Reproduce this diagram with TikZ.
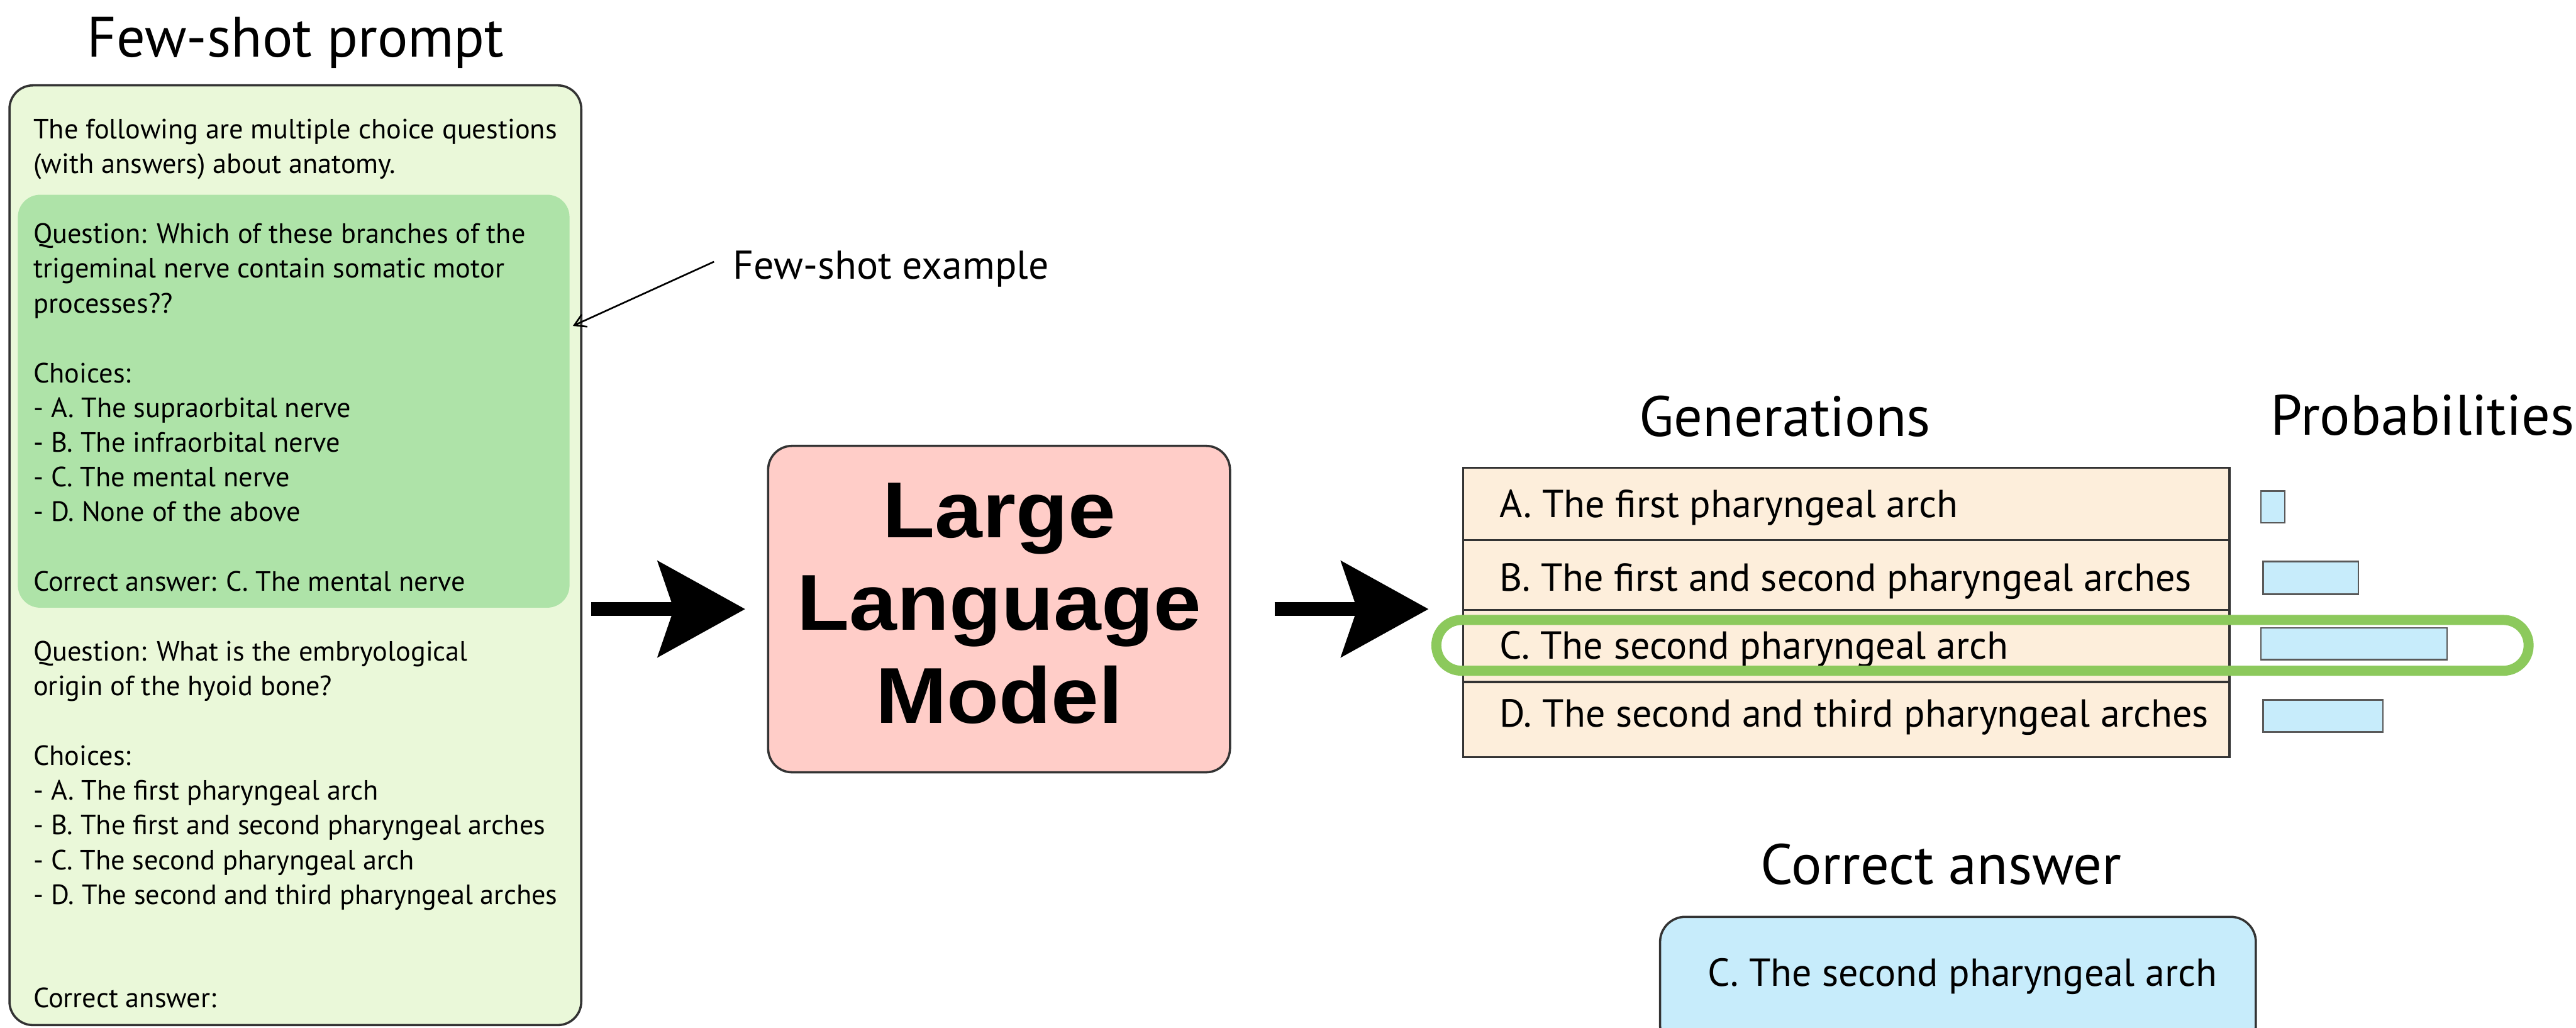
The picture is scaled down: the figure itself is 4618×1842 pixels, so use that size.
\documentclass[tikz,border=0pt]{standalone}
\usepackage{fontspec}
\setmainfont{PT Sans}
\newfontfamily\llmfont[FakeStretch=1.08]{Liberation Sans}
\usetikzlibrary{arrows.meta}
\definecolor{outergreen}{HTML}{EAF8D9}
\definecolor{innergreen}{HTML}{AEE3A8}
\definecolor{llmpink}{HTML}{FFCDC8}
\definecolor{peach}{HTML}{FDEEDB}
\definecolor{lightblue}{HTML}{C7ECFB}
\definecolor{hlgreen}{HTML}{8CC95C}
\definecolor{edge}{HTML}{333333}
\tikzset{
  every node/.style={inner sep=0pt, outer sep=0pt},
  body/.style={anchor=base west, font=\fontsize{50pt}{60pt}\selectfont, text=black},
  title/.style={anchor=base, font=\fontsize{102pt}{120pt}\selectfont, text=black},
  gentext/.style={anchor=base west, font=\fontsize{70pt}{80pt}\selectfont, text=black},
  fslabelstyle/.style={anchor=base west, font=\fontsize{72pt}{84pt}\selectfont, text=black},
  llmtext/.style={anchor=base, font=\llmfont\bfseries\fontsize{142pt}{166pt}\selectfont, text=black},
  promptbox/.style={draw=edge, line width=4pt, fill=outergreen, rounded corners=42pt, anchor=north west},
  examplebox/.style={fill=innergreen, rounded corners=40pt, anchor=north west},
  llmbox/.style={draw=edge, line width=4pt, fill=llmpink, rounded corners=43pt, anchor=north west},
  rowbox/.style={draw=edge, line width=4pt, fill=peach, anchor=north west, minimum width=1374pt},
  probbar/.style={draw=black!65, line width=3pt, fill=lightblue, anchor=north west},
  answerbox/.style={draw=edge, line width=4pt, fill=lightblue, rounded corners=45pt, anchor=north west},
  highlight/.style={draw=hlgreen, line width=18pt, rounded corners=45pt, anchor=north west},
  bigarrow/.style={line width=24pt, -{Stealth[length=156pt, width=170pt, inset=28pt]}},
  pointer/.style={line width=3pt, -{Straight Barb[length=20pt, width=24pt, line width=3pt]}},
}
\begin{document}
\begin{tikzpicture}[x=1pt, y=-1pt]
\useasboundingbox (0,0) rectangle (4618,1842);
\fill[white] (0,0) rectangle (4618,1842);

% ---- few-shot prompt ----
\node[title] (ptitle) at (530,102) {Few-shot prompt};
\node[promptbox, minimum width=1025pt, minimum height=1684pt] (prompt) at (17,153) {};
\node[examplebox, minimum width=989pt, minimum height=740pt] (example) at (32,349) {};

\node[body] (t1) at (60,249) {The following are multiple choice questions};
\node[body] (t2) at (60,311) {(with answers) about anatomy.};
\node[body] (t3) at (60,436) {Question: Which of these branches of the};
\node[body] (t4) at (60,498) {trigeminal nerve contain somatic motor};
\node[body] (t5) at (60,561) {processes??};
\node[body] (t6) at (60,686) {Choices:};
\node[body] (t7) at (60,748) {- A. The supraorbital nerve};
\node[body] (t8) at (60,810) {- B. The infraorbital nerve};
\node[body] (t9) at (60,872) {- C. The mental nerve};
\node[body] (t10) at (60,934) {- D. None of the above};
\node[body] (t11) at (60,1059) {Correct answer: C. The mental nerve};
\node[body] (t12) at (60,1184) {Question: What is the embryological};
\node[body] (t13) at (60,1246) {origin of the hyoid bone?};
\node[body] (t14) at (60,1371) {Choices:};
\node[body] (t15) at (60,1433) {- A. The first pharyngeal arch};
\node[body] (t16) at (60,1496) {- B. The first and second pharyngeal arches};
\node[body] (t17) at (60,1559) {- C. The second pharyngeal arch};
\node[body] (t18) at (60,1621) {- D. The second and third pharyngeal arches};
\node[body] (t19) at (60,1806) {Correct answer:};

% ---- few-shot example pointer ----
\node[fslabelstyle] (fslabel) at (1314,500) {Few-shot example};
\coordinate (fsx) at (1027,584);
\draw[pointer] ([xshift=-34pt, yshift=13pt]fslabel.west) -- (fsx);

% ---- LLM ----
\node[llmbox, minimum width=828pt, minimum height=585pt] (llm) at (1377,799) {};
\node[llmtext] (l1) at (1791,963) {Large};
\node[llmtext] (l2) at (1791,1129) {Language};
\node[llmtext] (l3) at (1791,1296) {Model};

% ---- generations table ----
\node[title] (gtitle) at (3200,782) {Generations};
\node[title] (ptitle2) at (4343,780) {Probabilities};
\node[rowbox, minimum height=130pt] (rA) at (2623,838) {};
\node[rowbox, minimum height=125pt] (rB) at (2623,968) {};
\node[rowbox, minimum height=129pt] (rC) at (2623,1093) {};
\node[rowbox, minimum height=135pt] (rD) at (2623,1222) {};
\node[gentext] (gA) at (2688,927) {A. The first pharyngeal arch};
\node[gentext] (gB) at (2688,1059) {B. The first and second pharyngeal arches};
\node[gentext] (gC) at (2688,1181) {C. The second pharyngeal arch};
\node[gentext] (gD) at (2688,1303) {D. The second and third pharyngeal arches};

\node[probbar, minimum width=43pt, minimum height=57pt] (pA) at (4053,880) {};
\node[probbar, minimum width=171pt, minimum height=59pt] (pB) at (4057,1006) {};
\node[probbar, minimum width=334pt, minimum height=57pt] (pC) at (4053,1125) {};
\node[probbar, minimum width=215pt, minimum height=58pt] (pD) at (4057,1254) {};

\node[highlight, minimum width=1958pt, minimum height=91pt] (hl) at (2575,1111) {};

% ---- correct answer ----
\node[title] (ctitle) at (3480,1585) {Correct answer};
\node[answerbox, minimum width=1068pt, minimum height=240pt] (ans) at (2976,1643) {};
\node[gentext] (anstext) at (3062,1767) {C. The second pharyngeal arch};

% ---- big arrows ----
\draw[bigarrow, shorten <=18pt, shorten >=41pt] (llm.west -| prompt.east) -- (llm.west);
\draw[bigarrow, shorten <=80pt, shorten >=62pt] (llm.east) -- (llm.east -| rA.west);
\end{tikzpicture}
\end{document}
